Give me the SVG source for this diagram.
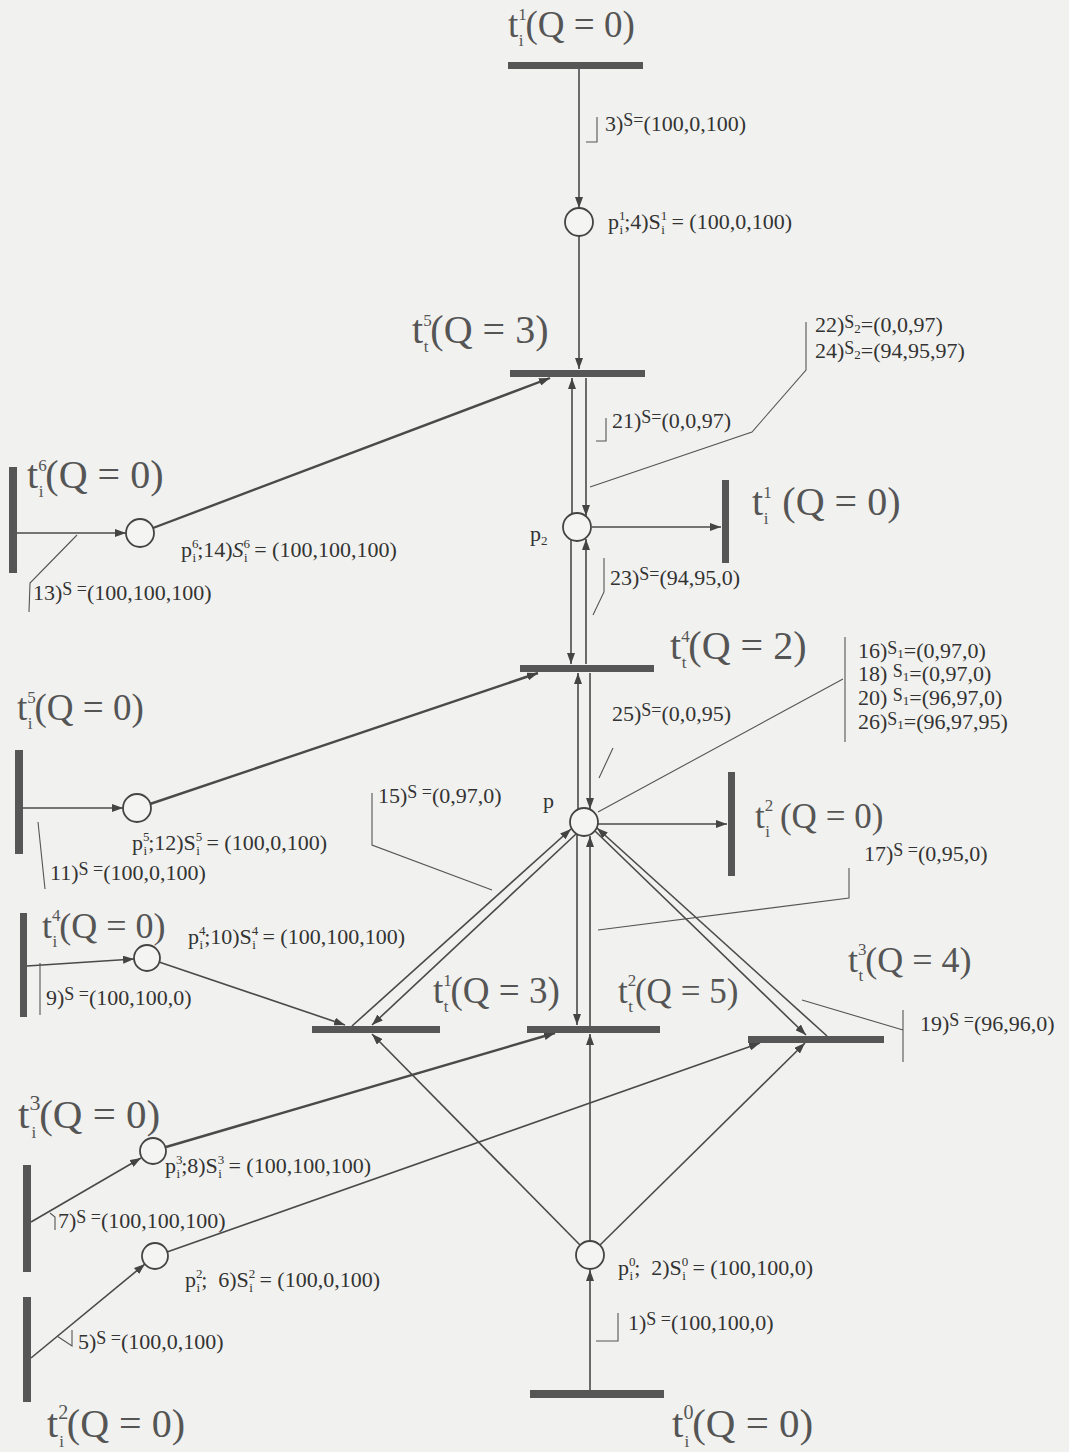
<svg xmlns="http://www.w3.org/2000/svg" width="1069" height="1452" viewBox="0 0 1069 1452">
<defs>
<marker id="ah" viewBox="0 0 11 8" refX="11" refY="4" markerWidth="11" markerHeight="8" markerUnits="userSpaceOnUse" orient="auto"><path d="M0,0 L11,4 L0,8 z" fill="#444"/></marker>
<style>
.ln{stroke:#4a4a4a;stroke-width:1.6;fill:none}
.lb{stroke-width:2.4}
.co{stroke:#555;stroke-width:1.1;fill:none}
.bar{fill:#565656}
.pl{fill:#f4f4f2;stroke:#444;stroke-width:1.8}
.big{font-family:"Liberation Serif","Times New Roman",serif;fill:#555}
.ss{font-size:17px}
.sm{font-family:"Liberation Serif","Times New Roman",serif;font-size:22px;fill:#333}
.r{font-size:18px}
.s2{font-size:13px}
</style>
</defs>
<rect width="1069" height="1452" fill="#f1f1ef"/>

<g id="connectors">
<path class="ln" d="M579,69 L579,208" marker-end="url(#ah)"/>
<path class="ln" d="M579,236 L579,369" marker-end="url(#ah)"/>
<path class="ln lb" d="M153,528 L550,378" marker-end="url(#ah)"/>
<path class="ln" d="M17,533 L126,533" marker-end="url(#ah)"/>
<path class="ln" d="M572,514 L572,378" marker-end="url(#ah)"/>
<path class="ln" d="M586,378 L586,516" marker-end="url(#ah)"/>
<path class="ln" d="M592,527 L721,527" marker-end="url(#ah)"/>
<path class="ln" d="M571,540 L571,664" marker-end="url(#ah)"/>
<path class="ln" d="M586,664 L586,539" marker-end="url(#ah)"/>
<path class="ln lb" d="M150,804 L538,673" marker-end="url(#ah)"/>
<path class="ln" d="M23,808 L123,808" marker-end="url(#ah)"/>
<path class="ln" d="M578,809 L578,673" marker-end="url(#ah)"/>
<path class="ln" d="M590,673 L590,809" marker-end="url(#ah)"/>
<path class="ln" d="M598,824 L727,824" marker-end="url(#ah)"/>
<path class="ln" d="M576,834 L372,1025" marker-end="url(#ah)"/>
<path class="ln" d="M352,1026 L571,829" marker-end="url(#ah)"/>
<path class="ln" d="M577,835 L577,1025" marker-end="url(#ah)"/>
<path class="ln" d="M590,1026 L590,836" marker-end="url(#ah)"/>
<path class="ln" d="M595,831 L806,1035" marker-end="url(#ah)"/>
<path class="ln" d="M827,1036 L597,828" marker-end="url(#ah)"/>
<path class="ln" d="M27,966 L134,959" marker-end="url(#ah)"/>
<path class="ln" d="M159,962 L345,1025" marker-end="url(#ah)"/>
<path class="ln" d="M31,1222 L141,1158" marker-end="url(#ah)"/>
<path class="ln lb" d="M166,1147 L555,1033" marker-end="url(#ah)"/>
<path class="ln" d="M31,1358 L145,1264" marker-end="url(#ah)"/>
<path class="ln" d="M167,1252 L760,1043" marker-end="url(#ah)"/>
<path class="ln" d="M580,1245 L372,1034" marker-end="url(#ah)"/>
<path class="ln" d="M590,1241 L590,1034" marker-end="url(#ah)"/>
<path class="ln" d="M600,1245 L805,1043" marker-end="url(#ah)"/>
<path class="ln" d="M590,1390 L590,1270" marker-end="url(#ah)"/>
</g>

<g id="annotations">
<path class="co" d="M597,117 L597,142 L586,142"/>
<text class="sm" x="605" y="131">3)<tspan class="r" dy="-5">S=</tspan><tspan dy="5">(100,0,100)</tspan></text>
<path class="co" d="M806,322 L806,370 L752,432 L590,487"/>
<text class="sm" x="815" y="332">22)<tspan class="r" dy="-4">S</tspan><tspan class="s2" dy="5">2</tspan><tspan dy="-1">=(0,0,97)</tspan></text>
<text class="sm" x="815" y="358">24)<tspan class="r" dy="-4">S</tspan><tspan class="s2" dy="5">2</tspan><tspan dy="-1">=(94,95,97)</tspan></text>
<path class="co" d="M606,418 L606,441 L596,441"/>
<text class="sm" x="612" y="428">21)<tspan class="r" dy="-5">S=</tspan><tspan dy="5">(0,0,97)</tspan></text>
<path class="co" d="M77,535 L30,583 L29,612"/>
<text class="sm" x="33" y="600">13)<tspan class="r" dy="-5">S =</tspan><tspan dy="5">(100,100,100)</tspan></text>
<path class="co" d="M604,558 L604,592 L593,615"/>
<text class="sm" x="610" y="585">23)<tspan class="r" dy="-5">S=</tspan><tspan dy="5">(94,95,0)</tspan></text>
<path class="co" d="M613,748 L599,778"/>
<text class="sm" x="612" y="721">25)<tspan class="r" dy="-5">S=</tspan><tspan dy="5">(0,0,95)</tspan></text>
<path class="co" d="M845,637 L845,742 M843,679 L598,812"/>
<text class="sm" x="858" y="658">16)<tspan class="r" dy="-4">S</tspan><tspan class="s2" dy="4">1</tspan><tspan>=(0,97,0)</tspan></text>
<text class="sm" x="858" y="681">18) <tspan class="r" dy="-4">S</tspan><tspan class="s2" dy="4">1</tspan><tspan>=(0,97,0)</tspan></text>
<text class="sm" x="858" y="705">20) <tspan class="r" dy="-4">S</tspan><tspan class="s2" dy="4">1</tspan><tspan>=(96,97,0)</tspan></text>
<text class="sm" x="858" y="729">26)<tspan class="r" dy="-4">S</tspan><tspan class="s2" dy="4">1</tspan><tspan>=(96,97,95)</tspan></text>
<path class="co" d="M372,793 L372,845 L492,890"/>
<text class="sm" x="378" y="803">15)<tspan class="r" dy="-5">S =</tspan><tspan dy="5">(0,97,0)</tspan></text>
<path class="co" d="M849,868 L849,898 L598,930"/>
<text class="sm" x="864" y="861">17)<tspan class="r" dy="-5">S =</tspan><tspan dy="5">(0,95,0)</tspan></text>
<path class="co" d="M38,822 L45,889"/>
<text class="sm" x="50" y="880">11)<tspan class="r" dy="-5">S =</tspan><tspan dy="5">(100,0,100)</tspan></text>
<path class="co" d="M40,963 L40,1015"/>
<text class="sm" x="46" y="1005">9)<tspan class="r" dy="-5">S =</tspan><tspan dy="5">(100,100,0)</tspan></text>
<path class="co" d="M903,1010 L903,1062 M903,1030 L802,1000"/>
<text class="sm" x="920" y="1031">19)<tspan class="r" dy="-5">S =</tspan><tspan dy="5">(96,96,0)</tspan></text>
<path class="co" d="M50,1213 L55,1217 L55,1230"/>
<text class="sm" x="58" y="1228">7)<tspan class="r" dy="-5">S =</tspan><tspan dy="5">(100,100,100)</tspan></text>
<path class="co" d="M57,1336 L72,1346 L72,1330"/>
<text class="sm" x="78" y="1349">5)<tspan class="r" dy="-5">S =</tspan><tspan dy="5">(100,0,100)</tspan></text>
<path class="co" d="M618,1313 L618,1341 L596,1341"/>
<text class="sm" x="628" y="1330">1)<tspan class="r" dy="-5">S =</tspan><tspan dy="5">(100,100,0)</tspan></text>
</g>

<g id="t_top">
<rect class="bar" x="508" y="62" width="135" height="7"/>
<text class="big" x="508" y="37" style="font-size:37px">t<tspan class="ss" dy="-17">1</tspan><tspan class="ss" dx="-8" dy="26">i</tspan><tspan dx="2" dy="-9">(Q = 0)</tspan></text>
</g>
<g id="p_i1">
<circle class="pl" cx="579" cy="222" r="14"/>
<text class="sm" x="608" y="229">p<tspan class="s2" dy="-9">1</tspan><tspan class="s2" dx="-6" dy="14">i</tspan><tspan dx="1" dy="-5">;4)S</tspan><tspan class="s2" dy="-9">1</tspan><tspan class="s2" dx="-6" dy="14">i</tspan><tspan dx="1" dy="-5"> = (100,0,100)</tspan></text>
</g>
<g id="t_t5">
<rect class="bar" x="510" y="370" width="135" height="7"/>
<text class="big" x="412" y="343" style="font-size:40px">t<tspan class="ss" dy="-17">5</tspan><tspan class="ss" dx="-8" dy="26">t</tspan><tspan dx="2" dy="-9">(Q = 3)</tspan></text>
</g>
<g id="t_i6">
<rect class="bar" x="9" y="467" width="8" height="106"/>
<text class="big" x="27" y="488" style="font-size:40px">t<tspan class="ss" dy="-17">6</tspan><tspan class="ss" dx="-8" dy="26">i</tspan><tspan dx="2" dy="-9">(Q = 0)</tspan></text>
</g>
<g id="p_i6">
<circle class="pl" cx="140" cy="533" r="14"/>
<text class="sm" x="181" y="557">p<tspan class="s2" dy="-9">6</tspan><tspan class="s2" dx="-6" dy="14">i</tspan><tspan dx="1" dy="-5">;14)</tspan><tspan font-style="italic">S</tspan><tspan class="s2" dy="-9">6</tspan><tspan class="s2" dx="-6" dy="14">i</tspan><tspan dx="1" dy="-5"> = (100,100,100)</tspan></text>
</g>
<g id="p2">
<circle class="pl" cx="577" cy="527" r="14"/>
<text class="sm" x="530" y="541">p<tspan class="s2" dy="4">2</tspan></text>
</g>
<g id="t_i1_right">
<rect class="bar" x="722" y="480" width="7" height="83"/>
<text class="big" x="752" y="515" style="font-size:40px">t<tspan class="ss" dy="-17">1</tspan><tspan class="ss" dx="-8" dy="26">i</tspan><tspan dx="14" dy="-9">(Q = 0)</tspan></text>
</g>
<g id="t_t4">
<rect class="bar" x="520" y="665" width="134" height="7"/>
<text class="big" x="670" y="659" style="font-size:40px">t<tspan class="ss" dy="-17">4</tspan><tspan class="ss" dx="-8" dy="26">t</tspan><tspan dx="2" dy="-9">(Q = 2)</tspan></text>
</g>
<g id="t_i5">
<rect class="bar" x="15" y="750" width="8" height="104"/>
<text class="big" x="17" y="720" style="font-size:37px">t<tspan class="ss" dy="-17">5</tspan><tspan class="ss" dx="-8" dy="26">i</tspan><tspan dx="2" dy="-9">(Q = 0)</tspan></text>
</g>
<g id="p_i5">
<circle class="pl" cx="137" cy="808" r="14"/>
<text class="sm" x="132" y="850">p<tspan class="s2" dy="-9">5</tspan><tspan class="s2" dx="-6" dy="14">i</tspan><tspan dx="1" dy="-5">;12)S</tspan><tspan class="s2" dy="-9">5</tspan><tspan class="s2" dx="-6" dy="14">i</tspan><tspan dx="1" dy="-5"> = (100,0,100)</tspan></text>
</g>
<g id="p">
<circle class="pl" cx="584" cy="822" r="14"/>
<text class="sm" x="543" y="808">p</text>
</g>
<g id="t_i2_right">
<rect class="bar" x="728" y="772" width="7" height="104"/>
<text class="big" x="755" y="828" style="font-size:35px">t<tspan class="ss" dy="-17">2</tspan><tspan class="ss" dx="-8" dy="26">i</tspan><tspan dx="10" dy="-9">(Q = 0)</tspan></text>
</g>
<g id="t_i4">
<rect class="bar" x="20" y="913" width="7" height="104"/>
<text class="big" x="42" y="938" style="font-size:36px">t<tspan class="ss" dy="-17">4</tspan><tspan class="ss" dx="-8" dy="26">i</tspan><tspan dx="2" dy="-9">(Q = 0)</tspan></text>
</g>
<g id="p_i4">
<circle class="pl" cx="147" cy="958" r="13"/>
<text class="sm" x="188" y="944">p<tspan class="s2" dy="-9">4</tspan><tspan class="s2" dx="-6" dy="14">i</tspan><tspan dx="1" dy="-5">;10)S</tspan><tspan class="s2" dy="-9">4</tspan><tspan class="s2" dx="-6" dy="14">i</tspan><tspan dx="1" dy="-5"> = (100,100,100)</tspan></text>
</g>
<g id="t_t1">
<rect class="bar" x="312" y="1026" width="128" height="7"/>
<text class="big" x="433" y="1003" style="font-size:37px">t<tspan class="ss" dy="-17">1</tspan><tspan class="ss" dx="-8" dy="26">t</tspan><tspan dx="2" dy="-9">(Q = 3)</tspan></text>
</g>
<g id="t_t2">
<rect class="bar" x="527" y="1026" width="133" height="7"/>
<text class="big" x="618" y="1003" style="font-size:35px">t<tspan class="ss" dy="-17">2</tspan><tspan class="ss" dx="-8" dy="26">t</tspan><tspan dx="2" dy="-9">(Q = 5)</tspan></text>
</g>
<g id="t_t3">
<rect class="bar" x="748" y="1036" width="136" height="7"/>
<text class="big" x="848" y="972" style="font-size:36px">t<tspan class="ss" dy="-17">3</tspan><tspan class="ss" dx="-8" dy="26">t</tspan><tspan dx="2" dy="-9">(Q = 4)</tspan></text>
</g>
<g id="t_i3">
<rect class="bar" x="23" y="1165" width="8" height="107"/>
<text class="big" x="18" y="1128" style="font-size:41px">t<tspan style="font-size:22px" dy="-18">3</tspan><tspan class="ss" dx="-9" dy="28">i</tspan><tspan dx="3" dy="-10">(Q = 0)</tspan></text>
</g>
<g id="p_i3">
<circle class="pl" cx="153" cy="1151" r="13"/>
<text class="sm" x="165" y="1173">p<tspan class="s2" dy="-9">3</tspan><tspan class="s2" dx="-6" dy="14">i</tspan><tspan dx="1" dy="-5">;8)S</tspan><tspan class="s2" dy="-9">3</tspan><tspan class="s2" dx="-6" dy="14">i</tspan><tspan dx="1" dy="-5"> = (100,100,100)</tspan></text>
</g>
<g id="p_i2">
<circle class="pl" cx="155" cy="1256" r="13"/>
<text class="sm" x="185" y="1287">p<tspan class="s2" dy="-9">2</tspan><tspan class="s2" dx="-6" dy="14">i</tspan><tspan dx="1" dy="-5">;</tspan><tspan dx="11">6)S</tspan><tspan class="s2" dy="-9">2</tspan><tspan class="s2" dx="-6" dy="14">i</tspan><tspan dx="1" dy="-5"> = (100,0,100)</tspan></text>
</g>
<g id="t_i2_left">
<rect class="bar" x="23" y="1297" width="8" height="105"/>
<text class="big" x="47" y="1437" style="font-size:40px">t<tspan style="font-size:20px" dy="-18">2</tspan><tspan class="ss" dx="-9" dy="28">i</tspan><tspan dx="3" dy="-10">(Q = 0)</tspan></text>
</g>
<g id="p_i0">
<circle class="pl" cx="590" cy="1255" r="14"/>
<text class="sm" x="618" y="1275">p<tspan class="s2" dy="-9">0</tspan><tspan class="s2" dx="-6" dy="14">i</tspan><tspan dx="1" dy="-5">;</tspan><tspan dx="11">2)S</tspan><tspan class="s2" dy="-9">0</tspan><tspan class="s2" dx="-6" dy="14">i</tspan><tspan dx="1" dy="-5"> = (100,100,0)</tspan></text>
</g>
<g id="t_i0">
<rect class="bar" x="530" y="1390" width="134" height="8"/>
<text class="big" x="672" y="1437" style="font-size:41px">t<tspan style="font-size:20px" dy="-18">0</tspan><tspan class="ss" dx="-9" dy="28">i</tspan><tspan dx="3" dy="-10">(Q = 0)</tspan></text>
</g>
</svg>
